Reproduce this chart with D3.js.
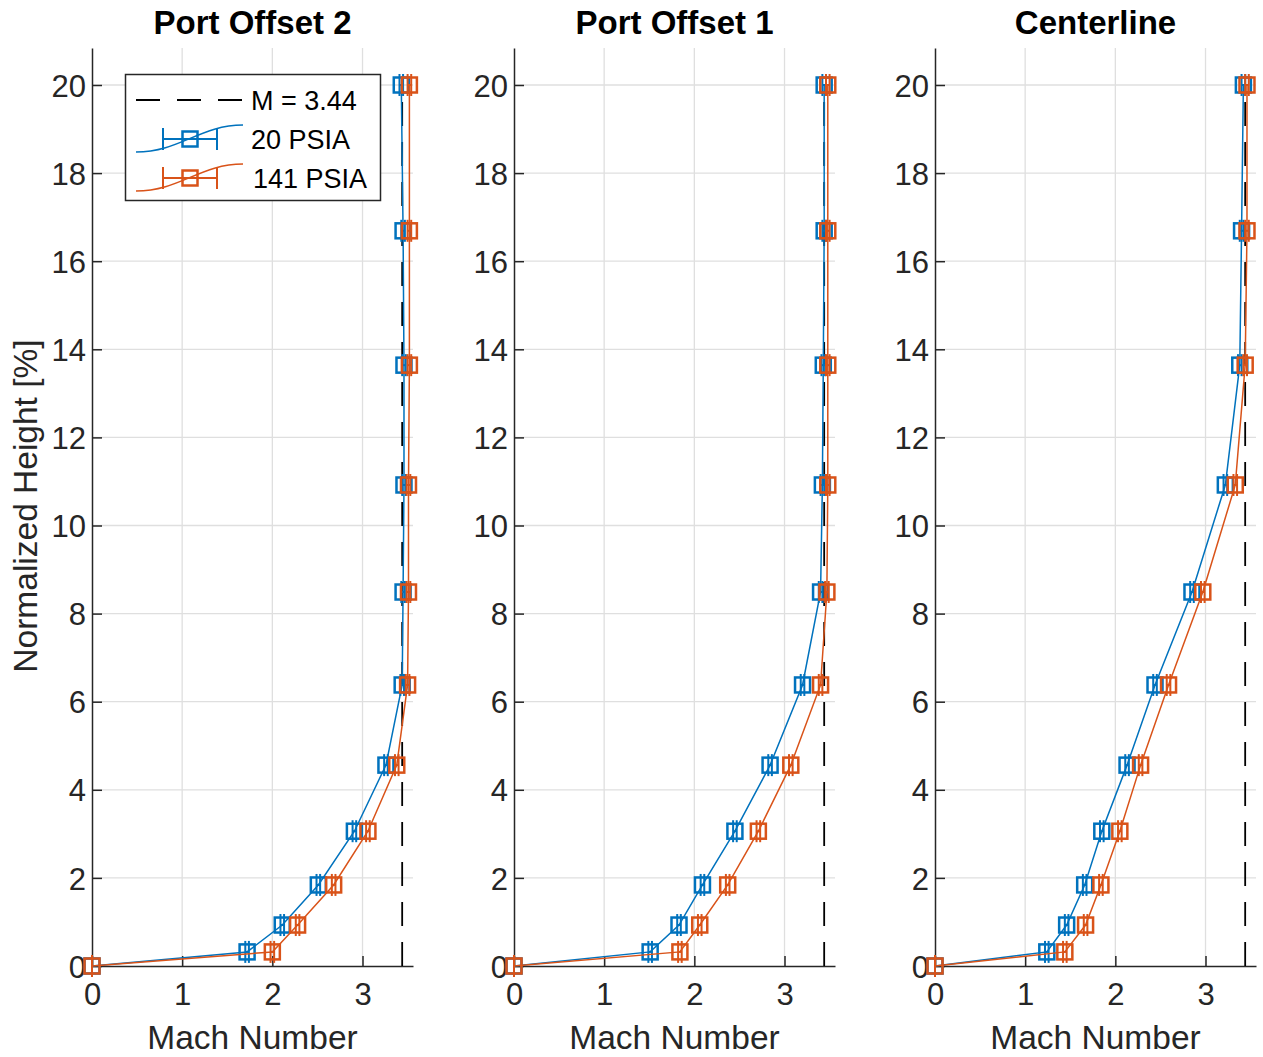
<!DOCTYPE html>
<meta charset="utf-8">
<head>
<title>Mach Number Profiles</title>
<style>
  body { margin: 0; background: #fff; }
  svg { font-family: "Liberation Sans", Arial, sans-serif; }
  .grid line { stroke: #dfdfdf; stroke-width: 1.3; }
  .tick-label { fill: #262626; font-size: 31px; }
</style>
</head>
<body>
<svg width="1263" height="1057"></svg>
<script src="https://cdnjs.cloudflare.com/ajax/libs/d3/7.8.5/d3.min.js"></script>
<script>
// ---- data ----
const panels = ["Port Offset 2", "Port Offset 1", "Centerline"];
const heights = [0, 0.32, 0.93, 1.84, 3.06, 4.56, 6.38, 8.49, 10.92, 13.64, 16.69, 20.0];
const seriesNames = ["20 PSIA", "141 PSIA"];
const freestream = 3.44;

const mach20 = [
  [0, 1.72, 2.11, 2.51, 2.91, 3.26, 3.44, 3.45, 3.46, 3.46, 3.45, 3.43],
  [0, 1.51, 1.83, 2.09, 2.45, 2.84, 3.20, 3.40, 3.42, 3.43, 3.44, 3.44],
  [0, 1.24, 1.46, 1.66, 1.85, 2.13, 2.44, 2.85, 3.22, 3.38, 3.40, 3.42]
];
const mach141 = [
  [0, 2.00, 2.28, 2.68, 3.06, 3.38, 3.50, 3.51, 3.51, 3.52, 3.52, 3.52],
  [0, 1.84, 2.06, 2.37, 2.71, 3.07, 3.40, 3.47, 3.48, 3.48, 3.48, 3.48],
  [0, 1.44, 1.67, 1.84, 2.05, 2.28, 2.59, 2.97, 3.33, 3.44, 3.46, 3.46]
];
// horizontal error (Mach) - tiny in the figure
const err20 = [0, 0.02, 0.02, 0.02, 0.02, 0.02, 0.02, 0.02, 0.02, 0.02, 0.02, 0.02];
const err141 = [0, 0.02, 0.02, 0.02, 0.02, 0.02, 0.02, 0.02, 0.02, 0.02, 0.02, 0.02];

const xTicks = [0, 1, 2, 3];
const yTicks = [0, 2, 4, 6, 8, 10, 12, 14, 16, 18, 20];

const colors = ["#0072BD", "#D95319"];

// ---- layout ----
const panelLeft = [92, 514, 935];
const plotW = 321, plotTop = 48, plotBottom = 966;
const svg = d3.select("svg");

const y = d3.scaleLinear().domain([0, 20.84]).range([plotBottom, plotTop]);

panels.forEach(function(title, p) {
  const left = panelLeft[p];
  const x = d3.scaleLinear().domain([0, 3.56]).range([left, left + plotW]);
  const g = svg.append("g");

  // grid
  const grid = g.append("g").attr("class", "grid");
  grid.selectAll(".gx").data(xTicks.filter(d => d > 0)).enter().append("line")
    .attr("x1", d => x(d)).attr("x2", d => x(d)).attr("y1", plotTop).attr("y2", plotBottom);
  grid.selectAll(".gy").data(yTicks.filter(d => d > 0)).enter().append("line")
    .attr("x1", left).attr("x2", left + plotW).attr("y1", d => y(d)).attr("y2", d => y(d));

  // axes (MATLAB style: ticks inward, box off)
  const xAxis = d3.axisBottom(x).tickValues(xTicks).tickFormat(d3.format("d"))
    .tickSizeInner(-10).tickSizeOuter(0).tickPadding(17);
  const yAxis = d3.axisLeft(y).tickValues(yTicks).tickFormat(d3.format("d"))
    .tickSizeInner(-10).tickSizeOuter(0).tickPadding(6);
  const ax = g.append("g").attr("transform", "translate(0," + plotBottom + ")").call(xAxis);
  const ay = g.append("g").attr("transform", "translate(" + left + ",0)").call(yAxis);
  [ax, ay].forEach(function(a) {
    a.select(".domain").attr("stroke", "#262626").attr("stroke-width", 1.5);
    a.selectAll(".tick line").attr("stroke", "#262626").attr("stroke-width", 1.5);
    a.selectAll(".tick text").attr("class", "tick-label").attr("font-family", null).attr("font-size", null);
  });
  ax.selectAll(".tick text").attr("dy", "0.71em");
  ay.selectAll(".tick text").attr("dy", "0.36em");

  // freestream dashed line
  g.append("line")
    .attr("x1", x(freestream)).attr("x2", x(freestream))
    .attr("y1", y(0)).attr("y2", y(20))
    .attr("stroke", "#000").attr("stroke-width", 1.8)
    .attr("stroke-dasharray", "24,16");

  // series
  [mach20[p], mach141[p]].forEach(function(vals, s) {
    const errs = s === 0 ? err20 : err141;
    const pts = vals.map((v, i) => ({ m: v, h: heights[i], e: errs[i] }));
    const sg = g.append("g");
    sg.append("path").datum(pts)
      .attr("fill", "none").attr("stroke", colors[s]).attr("stroke-width", 1.5)
      .attr("d", d3.line().x(d => x(d.m)).y(d => y(d.h)));
    const mk = sg.selectAll(".mk").data(pts).enter().append("g");
    mk.append("line")
      .attr("x1", d => x(d.m - d.e)).attr("x2", d => x(d.m + d.e))
      .attr("y1", d => y(d.h)).attr("y2", d => y(d.h))
      .attr("stroke", colors[s]).attr("stroke-width", 2);
    mk.append("line")
      .attr("x1", d => x(d.m - d.e)).attr("x2", d => x(d.m - d.e))
      .attr("y1", d => y(d.h) - 11).attr("y2", d => y(d.h) + 11)
      .attr("stroke", colors[s]).attr("stroke-width", 2);
    mk.append("line")
      .attr("x1", d => x(d.m + d.e)).attr("x2", d => x(d.m + d.e))
      .attr("y1", d => y(d.h) - 11).attr("y2", d => y(d.h) + 11)
      .attr("stroke", colors[s]).attr("stroke-width", 2);
    mk.append("rect")
      .attr("x", d => x(d.m) - 7.5).attr("y", d => y(d.h) - 7.5)
      .attr("width", 15).attr("height", 15)
      .attr("fill", "none").attr("stroke", colors[s]).attr("stroke-width", 2.5);
  });

  // title + x label
  g.append("text").attr("x", left + plotW / 2).attr("y", 34)
    .attr("text-anchor", "middle").attr("font-weight", "bold").attr("font-size", 33)
    .attr("fill", "#000").text(title);
  g.append("text").attr("x", left + plotW / 2).attr("y", 1049)
    .attr("text-anchor", "middle").attr("font-size", 33.5)
    .attr("fill", "#262626").text("Mach Number");
});

// y label
svg.append("text")
  .attr("transform", "translate(37,506) rotate(-90)")
  .attr("text-anchor", "middle").attr("font-size", 33.5)
  .attr("fill", "#262626").text("Normalized Height [%]");

// ---- legend ----
const lg = svg.append("g");
lg.append("rect").attr("x", 125.5).attr("y", 74.5).attr("width", 255).attr("height", 126)
  .attr("fill", "#fff").attr("stroke", "#262626").attr("stroke-width", 1.5);
lg.append("line").attr("x1", 136).attr("x2", 243).attr("y1", 100).attr("y2", 100)
  .attr("stroke", "#000").attr("stroke-width", 1.8).attr("stroke-dasharray", "24,17");
lg.append("text").attr("x", 251).attr("y", 109.5).attr("font-size", 27).attr("fill", "#000")
  .text("M = " + freestream.toFixed(2));
seriesNames.forEach(function(name, s) {
  const cy = 139 + s * 39;
  const c = colors[s];
  lg.append("path")
    .attr("d", "M136," + (cy + 13) + " C180," + (cy + 13) + " 200," + (cy - 14) + " 243," + (cy - 14))
    .attr("fill", "none").attr("stroke", c).attr("stroke-width", 1.5);
  lg.append("line").attr("x1", 163).attr("x2", 217).attr("y1", cy).attr("y2", cy)
    .attr("stroke", c).attr("stroke-width", 2);
  [163, 217].forEach(function(cx) {
    lg.append("line").attr("x1", cx).attr("x2", cx).attr("y1", cy - 11).attr("y2", cy + 11)
      .attr("stroke", c).attr("stroke-width", 2);
  });
  lg.append("rect").attr("x", 182.5).attr("y", cy - 7.5).attr("width", 15).attr("height", 15)
    .attr("fill", "none").attr("stroke", c).attr("stroke-width", 2.5);
  lg.append("text").attr("x", 251 + s * 2).attr("y", cy + 9.5).attr("font-size", 27).attr("fill", "#000")
    .text(name);
});
</script>
</body>
</html>
